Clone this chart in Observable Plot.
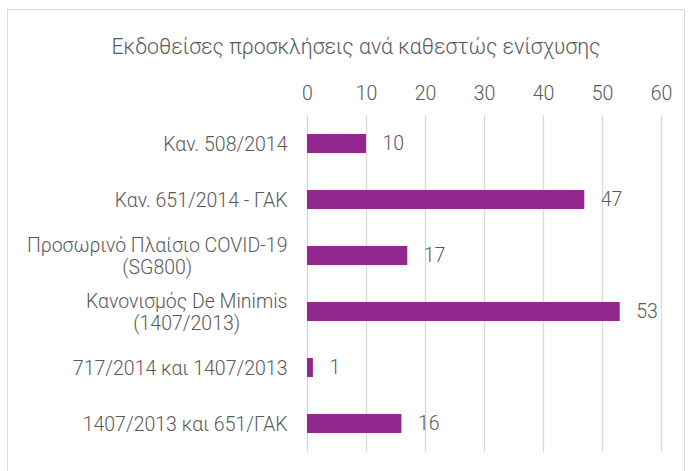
<!DOCTYPE html>
<html><head><meta charset="utf-8">
<script src="https://cdn.jsdelivr.net/npm/d3@7"></script>
<script src="https://cdn.jsdelivr.net/npm/@observablehq/plot@0.6"></script>
<style>
body{margin:0;background:#fff;font-family:Roboto,"Noto Sans",sans-serif;color:#595959;}
#wrap{position:relative;width:692px;height:471px;overflow:hidden;background:#fff;}
#frame{position:absolute;left:7px;top:9px;width:678px;height:470px;border:1px solid #d9d9d9;box-sizing:border-box;}
#title{position:absolute;left:356px;top:35px;line-height:24px;transform:translateX(-50%);white-space:nowrap;font-size:21.3px;font-weight:300;color:#595959;}
#chart{position:absolute;left:0;top:0;}
#chart svg text{font-weight:300;}
</style></head>
<body>
<div id="wrap"><div id="frame"></div><div id="title">Εκδοθείσες προσκλήσεις ανά καθεστώς ενίσχυσης</div><div id="chart"></div></div>
<script>
const categories = [
  "Καν. 508/2014",
  "Καν. 651/2014 - ΓΑΚ",
  "Προσωρινό Πλαίσιο COVID-19\n(SG800)",
  "Κανονισμός De Minimis\n(1407/2013)",
  "717/2014 και 1407/2013",
  "1407/2013 και 651/ΓΑΚ"
];
const values = [10, 47, 17, 53, 1, 16];
const xTicks = [0, 10, 20, 30, 40, 50, 60];

const data = categories.map((c, i) => ({category: c, value: values[i]}));
const textColor = "#595959";

const plot = Plot.plot({
  width: 692,
  height: 471,
  marginTop: 115,
  marginBottom: 19,
  marginLeft: 307,
  marginRight: 31,
  style: {fontFamily: "Roboto, 'Noto Sans', sans-serif", fontSize: "19.5px", color: textColor, background: "transparent"},
  x: {domain: [0, 60], axis: null, label: null},
  y: {domain: categories, axis: null, label: null, paddingInner: 0.66, paddingOuter: 0.33},
  marks: [
    Plot.gridX(xTicks, {stroke: "#d9d9d9", strokeOpacity: 1, strokeWidth: 1.3}),
    Plot.axisX(xTicks, {anchor: "top", tickSize: 0, tickPadding: 16, fontSize: 19.5, label: null, tickFormat: d => String(d), fill: textColor}),
    Plot.barX(data, {x: "value", y: "category", fill: "#92278F"}),
    Plot.text(data, {x: "value", y: "category", text: d => String(d.value), textAnchor: "start", dx: 16, fontSize: 19.5, fill: textColor}),
    Plot.text(data, {x: 0, y: "category", text: "category", textAnchor: "end", dx: -20, fontSize: 19.5, lineHeight: 1.13, fill: textColor, className: "ylab"})
  ]
});
document.getElementById("chart").appendChild(plot);

// center lines of multi-line category labels within their right-aligned block
plot.querySelectorAll(".ylab text").forEach(t => {
  const spans = t.querySelectorAll("tspan");
  if (spans.length > 1) {
    let w = 0;
    spans.forEach(s => { w = Math.max(w, s.getComputedTextLength()); });
    t.setAttribute("text-anchor", "middle");
    spans.forEach(s => s.setAttribute("x", -w / 2));
  }
});
</script>
</body></html>
